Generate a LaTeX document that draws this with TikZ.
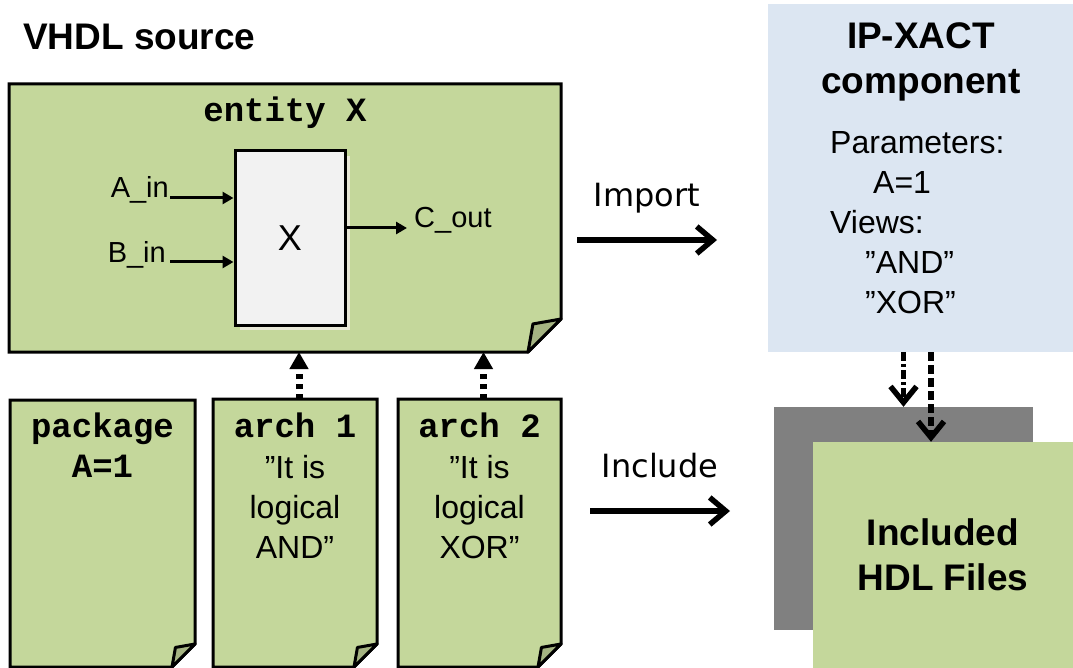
\documentclass[tikz,border=0pt]{standalone}
\usepackage{fontspec}
\setmainfont{Liberation Sans}
\newfontfamily\codefont{Liberation Mono}
\newfontfamily\flowfont{DejaVu Sans}
\usetikzlibrary{arrows.meta,positioning,backgrounds,shadows}

\definecolor{docgreen}{HTML}{C4D79B}
\definecolor{foldgreen}{HTML}{A5B482}
\definecolor{ipblue}{HTML}{DCE6F2}
\definecolor{blockgray}{HTML}{F2F2F2}
\definecolor{shadowbeige}{HTML}{E9E9D8}
\definecolor{filegray}{HTML}{808080}

\tikzset{
  page/.style={rectangle, inner sep=0pt, outer sep=0pt},
  heading/.style={font=\bfseries\fontsize{37}{45}\selectfont, inner sep=0pt, align=center},
  codetext/.style={font=\codefont\bfseries\fontsize{34}{40}\selectfont, inner sep=0pt},
  bodytext/.style={font=\fontsize{32}{40}\selectfont, inner sep=0pt},
  porttext/.style={font=\fontsize{29}{34}\selectfont, inner sep=0pt},
  flowtext/.style={font=\flowfont\fontsize{32}{38}\selectfont, inner sep=0pt},
  port/.style={line width=3pt, -{Triangle[length=11pt,width=12pt]}},
  archlink/.style={line width=7pt, dash pattern=on 5pt off 5pt, -{Triangle[length=17pt,width=18pt]}},
  flow/.style={line width=5.5pt, -{Straight Barb[length=16pt,width=27pt]}},
  viewlink/.style={line width=5.5pt, -{Straight Barb[length=16pt,width=26pt]}}
}

\begin{document}
\begin{tikzpicture}[x=1pt, y=-1pt]
	\useasboundingbox (0,0) rectangle (1073,668);
	% VHDL side
	\node[heading, anchor=base west] (vhdltitle) at (23,50) {VHDL source};
	\node[page, minimum width=552pt, minimum height=268pt] (entity) at (285,218) {};
	\node[codetext, anchor=base] (entityname) at ([yshift=-38pt]entity.north) {entity X};
	\node[draw, line width=3pt, fill=blockgray, minimum width=110pt, minimum height=174pt, inner sep=0pt,
		font=\fontsize{36}{40}\selectfont,
		drop shadow={shadow xshift=5pt, shadow yshift=-5pt, fill=shadowbeige, opacity=1}] (xblock) at (290,238) {X};
	\node[porttext, anchor=base east] (ainlbl) at (169,198) {A\_in};
	\node[porttext, anchor=base east] (binlbl) at (166,262) {B\_in};
	\node[porttext, anchor=base west] (coutlbl) at (414,228) {C\_out};
	\draw[port] ([xshift=1pt]ainlbl.base east) -- (ainlbl.base east -| xblock.west);
	\draw[port] ([xshift=4pt]binlbl.base east) -- (binlbl.base east -| xblock.west);
	\draw[port] (xblock.east |- coutlbl.base west) -- ([xshift=-7pt]coutlbl.base west);

	\node[page, minimum width=185pt, minimum height=267pt] (pkg) at (102.5,533.5) {};
	\node[page, minimum width=164pt, minimum height=268pt] (archone) at (295,533) {};
	\node[page, minimum width=163pt, minimum height=268pt] (archtwo) at (479.5,533) {};
	\node[codetext, anchor=base] (pkgname) at ([yshift=-37pt]pkg.north) {package};
	\node[codetext, anchor=base] (pkgvalue) at ([yshift=-77pt]pkg.north) {A=1};
	\node[codetext, anchor=base] (archonename) at ([yshift=-38pt]archone.north) {arch 1};
	\node[codetext, anchor=base] (archtwoname) at ([yshift=-38pt]archtwo.north) {arch 2};
	\node[bodytext, anchor=north, align=center] (archonetext) at ([yshift=-56pt]archone.north) {”It is\\logical\\AND”};
	\node[bodytext, anchor=north, align=center] (archtwotext) at ([yshift=-56pt]archtwo.north) {”It is\\logical\\XOR”};
	\draw[archlink] ([xshift=4pt]archone.north) -- ([xshift=4pt]archone.north |- entity.south);
	\draw[archlink] ([xshift=4pt]archtwo.north) -- ([xshift=4pt]archtwo.north |- entity.south);

	% IP-XACT side
	\node[fill=ipblue, minimum width=305pt, minimum height=348pt, inner sep=0pt] (ipxact) at (920.5,178) {};
	\node[heading, anchor=north] (iptitle) at (921,22) {IP-XACT\\component};
	\node[bodytext, anchor=north west, align=left] (ipbody) at (830,131)
		{Parameters:\\\hspace*{43pt}A=1\\Views:\\\hspace*{35pt}”AND”\\\hspace*{35pt}”XOR”};
	\node[fill=filegray, minimum width=259pt, minimum height=223pt, inner sep=0pt] (hdlback) at (903.5,518.5) {};
	\node[heading, fill=docgreen, minimum width=260pt, minimum height=226pt] (hdlfront) at (943,555) {Included\\HDL Files};
	\draw[viewlink, dash pattern=on 9pt off 3pt on 3pt off 3pt] (ipxact.south -| hdlback.north) -- (hdlback.north);
	\draw[viewlink, dash pattern=on 9pt off 4pt] ([xshift=-12pt]hdlfront.north |- ipxact.south) -- ([xshift=-12pt]hdlfront.north);

	\coordinate (impfrom) at (577,240);
	\coordinate (impto) at (717,240);
	\coordinate (incfrom) at (590,511);
	\coordinate (incto) at (730,511);
	\draw[flow] (impfrom) -- node[flowtext, above=24pt] (importlbl) {Import} (impto);
	\draw[flow] (incfrom) -- node[flowtext, above=30pt] (includelbl) {Include} (incto);

	% page outlines with folded corner
	\begin{scope}[on background layer]
		\foreach \pg/\f in {entity/33, pkg/23, archone/23, archtwo/23}{
			\filldraw[fill=docgreen, draw=black, line width=3pt]
				(\pg.north west) -- (\pg.north east) -- ([yshift=\f*1pt]\pg.south east)
				-- ([xshift=-\f*1pt]\pg.south east) -- (\pg.south west) -- cycle;
			\filldraw[fill=foldgreen, draw=black, line width=3pt, line join=round]
				([xshift=-\f*1pt]\pg.south east) -- ([xshift=-0.85*\f*1pt, yshift=0.85*\f*1pt]\pg.south east)
				-- ([yshift=\f*1pt]\pg.south east) -- cycle;
		}
	\end{scope}
\end{tikzpicture}
\end{document}
